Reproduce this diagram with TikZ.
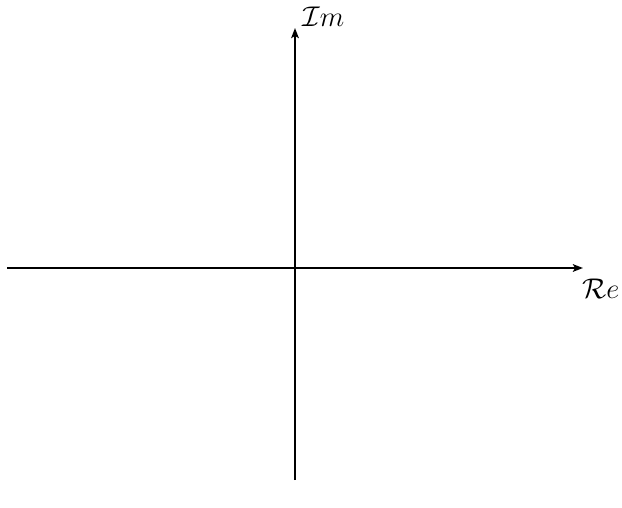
\documentclass[tikz,border=0pt]{standalone}
\usepackage{graphicx}
\usetikzlibrary{arrows.meta}
\newcommand{\biglbl}[1]{\scalebox{1.15}{\Huge$#1$}}
\begin{document}
\begin{tikzpicture}[x=1bp,y=-1bp,
  axis/.style={line width=2.5bp,-{Stealth[length=10bp,width=7.5bp,inset=2bp]}},
  lbl/.style={inner sep=0pt}]
\useasboundingbox (0,0) rectangle (622,508);
\coordinate (xl) at (7,268);
\coordinate (xr) at (583,268);
\coordinate (yb) at (295,480);
\coordinate (yt) at (295,28);
\draw[axis] (xl) -- (xr);
\draw[axis] (yb) -- (yt);
\node[lbl,anchor=base west] (im) at (302,27) {\biglbl{\mathcal{I}m}};
\node[lbl,anchor=base west] (re) at (582,298) {\biglbl{\mathcal{R}e}};
\end{tikzpicture}
\end{document}
